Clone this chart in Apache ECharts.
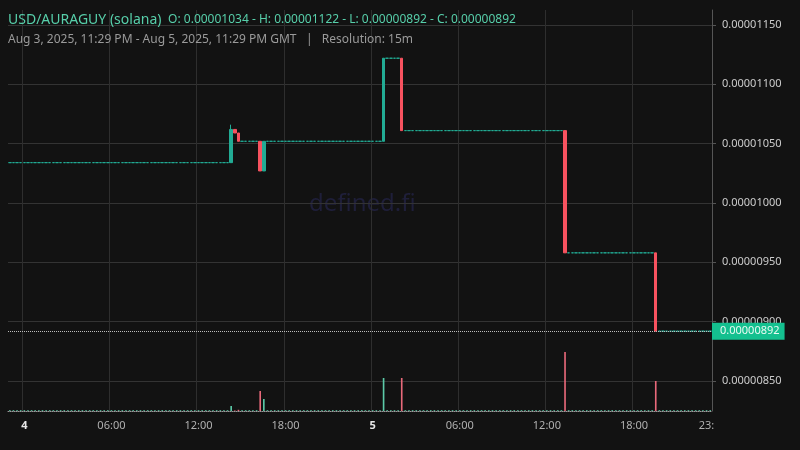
<!DOCTYPE html>
<html><head><meta charset="utf-8">
<script src="https://cdn.jsdelivr.net/npm/echarts@6/dist/echarts.min.js"></script>
<style>html,body{margin:0;background:#121212;}#c{width:800px;height:450px;}</style>
</head><body><div id="c"></div>
<script>
// ---- data ----
const candleCount = 194;              // 15m candles from Aug 3 23:00 GMT
const firstPrice = 0.00001034;        // flat price before first trade
const activeTimes  = ['2025-08-04 14:15','2025-08-04 14:30','2025-08-04 14:45','2025-08-04 16:15','2025-08-04 16:30','2025-08-05 00:45','2025-08-05 02:00','2025-08-05 13:15','2025-08-05 19:30'];
const activeOpen   = [0.00001034,0.00001062,0.00001059,0.00001052,0.00001027,0.00001052,0.00001122,0.00001061,0.00000958];
const activeClose  = [0.00001062,0.00001059,0.00001052,0.00001027,0.00001052,0.00001122,0.00001061,0.00000958,0.00000892];
const activeLow    = [0.00001034,0.00001059,0.00001052,0.00001027,0.00001027,0.00001052,0.00001061,0.00000958,0.00000892];
const activeHigh   = [0.00001066,0.00001062,0.00001059,0.00001052,0.00001052,0.00001122,0.00001122,0.00001061,0.00000958];
const activeVolume = [5,0.5,1.2,20,12,33,33,59,30];
const idleVolume = 0.8;
const lastPrice = 0.00000892;
const priceTicks = [0.0000085,0.0000090,0.0000095,0.0000100,0.0000105,0.0000110,0.0000115];
const xTickTimes  = ['2025-08-04 00:00','2025-08-04 06:00','2025-08-04 12:00','2025-08-04 18:00','2025-08-05 00:00','2025-08-05 06:00','2025-08-05 12:00','2025-08-05 18:00','2025-08-05 23:00'];
const xTickLabels = ['4','06:00','12:00','18:00','5','06:00','12:00','18:00','23:'];
const xGridTimes  = ['2025-08-04 00:00','2025-08-04 06:00','2025-08-04 12:00','2025-08-04 18:00','2025-08-05 00:00','2025-08-05 06:00','2025-08-05 12:00','2025-08-05 18:00'];

// ---- build ----
const pad = n => String(n).padStart(2,'0');
const t0 = Date.UTC(2025,7,3,23,0);
const categories = [];
for (let i = 0; i < candleCount; i++) {
  const d = new Date(t0 + i * 900000);
  categories.push(d.getUTCFullYear()+'-'+pad(d.getUTCMonth()+1)+'-'+pad(d.getUTCDate())+' '+pad(d.getUTCHours())+':'+pad(d.getUTCMinutes()));
}
const GREEN = '#22ab94', RED = '#f7525f';
const VGREEN = '#5ccaa8', VRED = '#e8697a';
const ohlc = [], vols = [];
let prev = firstPrice;
categories.forEach(c => {
  const k = activeTimes.indexOf(c);
  if (k >= 0) {
    ohlc.push([activeOpen[k], activeClose[k], activeLow[k], activeHigh[k]]);
    vols.push({value: activeVolume[k], itemStyle:{color: activeClose[k] < activeOpen[k] ? VRED : VGREEN}});
    prev = activeClose[k];
  } else {
    ohlc.push([prev, prev, prev, prev]);
    vols.push({value: idleVolume, itemStyle:{color: VGREEN}});
  }
});

const chart = echarts.init(document.getElementById('c'), null, {renderer:'canvas'});
const font = 'Noto Sans';
chart.setOption({
  backgroundColor: '#121212',
  animation: false,
  textStyle: {fontFamily: font},
  graphic: [
    {type:'text', left: 8, top: 13, z:10, style:{text:'{a|USD/AURAGUY (solana)}  {b|O: 0.00001034 - H: 0.00001122 - L: 0.00000892 - C: 0.00000892}',
      rich:{a:{fill:'#57cfaa', fontSize:14, fontFamily:font}, b:{fill:'#57cfaa', fontSize:12, fontFamily:font}}}},
    {type:'text', left: 8, top: 34, z:10, style:{text:'Aug 3, 2025, 11:29 PM - Aug 5, 2025, 11:29 PM GMT   |   Resolution: 15m', fill:'#9a9a9a', fontSize:12, fontFamily:font}},
    {type:'text', left: 309, top: 192, z:-10, zlevel:0, style:{text:'defined.fi', fill:'#1f1f3a', fontSize:24, fontFamily:font}}
  ],
  grid: [
    {left: 8, right: 88, top: 10, bottom: 39},
    {left: 8, right: 88, top: 311, bottom: 39}
  ],
  xAxis: [
    {type:'category', gridIndex:0, data: categories, boundaryGap:true,
     axisLine:{show:false}, axisTick:{show:false},
     splitLine:{show:true, interval:(i,v)=>xGridTimes.indexOf(v)>=0, lineStyle:{color:'#2e2e2e'}},
     axisLabel:{show:true, margin:9, interval:(i,v)=>xTickTimes.indexOf(v)>=0,
       formatter:(v)=>{const k=xTickTimes.indexOf(v); const s=xTickLabels[k]; return (s==='4'||s==='5')?'{d|'+s+'}':'{t|'+s+'}';},
       rich:{d:{color:'#e6e6e6', fontWeight:'bold', fontSize:11, fontFamily:font}, t:{color:'#b0b0b0', fontSize:11, fontFamily:font}}}},
    {type:'category', gridIndex:1, data: categories, boundaryGap:true,
     axisLine:{show:true, lineStyle:{color:'#9a9a9a', type:'dotted', width:1}}, axisTick:{show:false}, axisLabel:{show:false}, splitLine:{show:false}}
  ],
  yAxis: [
    {type:'value', gridIndex:0, position:'right', min:0.0000082472, max:0.0000116264, scale:true,
     axisLine:{show:true, lineStyle:{color:'#555'}},
     axisTick:{show:true, customValues: priceTicks, length:4, lineStyle:{color:'#555'}},
     axisLabel:{customValues: priceTicks, color:'#cccccc', fontSize:11, margin:10, formatter:v=>v.toFixed(8)},
     splitLine:{show:true, lineStyle:{color:'#333'}}},
    {type:'value', gridIndex:1, min:0, max:100, show:false, splitLine:{show:false}}
  ],
  series: [
    {type:'bar', xAxisIndex:1, yAxisIndex:1, data: vols, barWidth:'45%', z:3, silent:true},
    {type:'candlestick', xAxisIndex:0, yAxisIndex:0, data: ohlc, barWidth:'82%', z:4, silent:true,
     itemStyle:{color:GREEN, color0:RED, borderColor:GREEN, borderColor0:RED, borderColorDoji:GREEN, borderWidth:1}},
    {type:'line', xAxisIndex:0, yAxisIndex:0, data: [], z:6, silent:true, symbol:'none',
     markLine:{symbol:'none', silent:true, animation:false, precision:8,
       lineStyle:{color:'#bdbdbd', type:'dotted', width:1},
       label:{show:true, position:'end', distance:0, formatter: lastPrice.toFixed(8), color:'#eafaf3', backgroundColor:'#14c08f', padding:[3,5,3,8], fontSize:11, fontFamily:font},
       data:[{yAxis: lastPrice}]}}
  ]
});
</script></body></html>
